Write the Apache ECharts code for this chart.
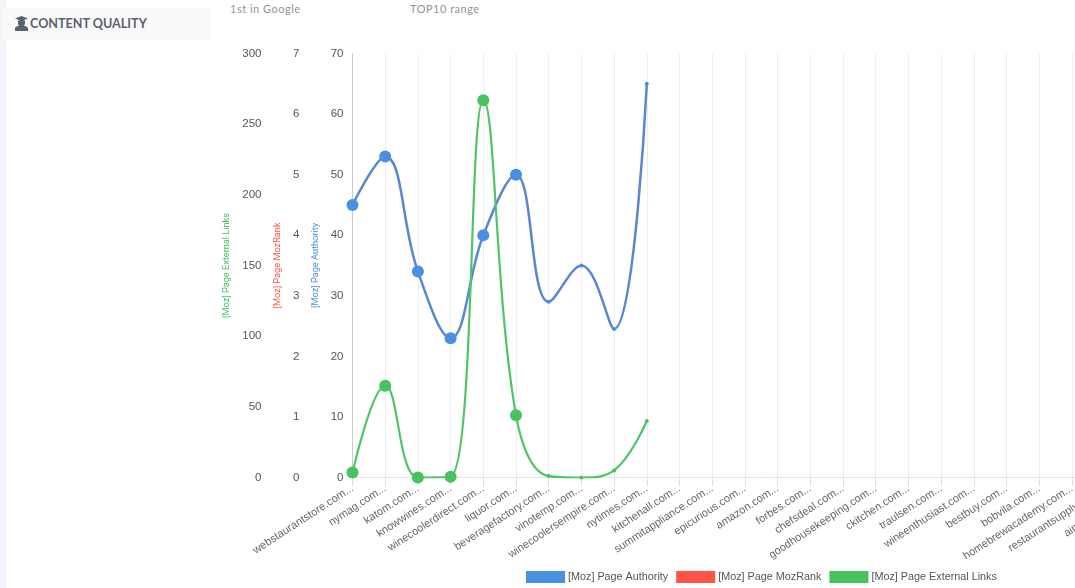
<!DOCTYPE html>
<html>
<head>
    <meta charset="UTF-8">
    <title>Content quality</title>
    <script src="https://cdn.jsdelivr.net/npm/echarts@6/dist/echarts.min.js"></script>
    <style>
        html, body { margin: 0; padding: 0; background: #fff; overflow: hidden; }
        body { width: 1075px; height: 588px; position: relative; font-family: Lato, "Open Sans", sans-serif; }
        .strip { position: absolute; left: 0; top: 0; width: 6px; height: 588px; background: #f3f4f9; }
        .panel { position: absolute; left: 3px; top: 8px; width: 208px; height: 32px; background: #f9f9f9; border-radius: 2px;
                 font-weight: 700; font-size: 12.6px; line-height: 32px; color: #5a6270; }
        .panel svg { position: absolute; left: 12px; top: 8px; }
        .panel span { position: absolute; left: 27px; }
        .head { position: absolute; top: 1px; font-size: 11px; letter-spacing: .5px; color: #8f949c; line-height: 16px; }
        #main { position: absolute; left: 0; top: 0; width: 1240px; height: 588px; }
    </style>
</head>
<body>
<div class="strip"></div>
<div class="panel">
    <svg width="13" height="15" viewBox="0 0 13 15"><path fill="#5a6270" d="M6.500 0 13 2.500 6.500 5 0 2.500zM3 4.500h7V7a3.500 3.500 0 0 1-7 0zM0 15v-2.500C0 11 2 10 3.500 10h6c1.500 0 3.500 1 3.500 2.500V15z"/></svg>
    <span>CONTENT QUALITY</span>
</div>
<div class="head" style="left:230px">1st in Google</div>
<div class="head" style="left:410px">TOP10 range</div>
<div id="main"></div>
<script type="text/javascript">
    var categories = ['webstaurantstore.com...', 'nymag.com...', 'katom.com...', 'knowwines.com...',
        'winecoolerdirect.com...', 'liquor.com...', 'beveragefactory.com...', 'vinotemp.com...',
        'winecoolersempire.com...', 'nytimes.com...', 'kitchenall.com...', 'summitappliance.com...',
        'epicurious.com...', 'amazon.com...', 'forbes.com...', 'chefsdeal.com...',
        'goodhousekeeping.com...', 'ckitchen.com...', 'traulsen.com...', 'wineenthusiast.com...',
        'bestbuy.com...', 'bobvila.com...', 'homebrewacademy.com...', 'restaurantsupply.com...',
        'aimsurplus.com...', 'restaurantware.com...'];
    var pageAuthority = [45, 53, 34, 23, 40, 50, 29, 35, 24.5, 65];
    var pageMozRank = [];
    var externalLinks = [3.5, 65, 0, 0.5, 267, 44, 1, 0, 5, 40];

    var myChart = echarts.init(document.getElementById('main'));

    function yAxis(name, max, step, color, offset, nameGap, showLine) {
        return {
            type: 'value',
            position: 'left',
            min: 0,
            max: max,
            interval: step,
            offset: offset,
            name: name,
            nameLocation: 'middle',
            nameRotate: 90,
            nameGap: nameGap,
            nameTextStyle: {color: color, fontSize: 9.2, fontFamily: 'Roboto'},
            axisLine: {show: showLine, lineStyle: {color: '#cccccc'}},
            axisTick: {show: false},
            splitLine: {show: false},
            axisLabel: {color: '#555', fontSize: 11.5, fontFamily: 'Liberation Sans', margin: 9}
        };
    }

    function line(name, color, lineColor, width, data, yIndex) {
        return {
            name: name,
            type: 'line',
            yAxisIndex: yIndex,
            data: data,
            smooth: 0.4,
            symbol: 'circle',
            // only the first six points carry a large marker
            symbolSize: function (v, p) { return p.dataIndex < 6 ? 12 : 4; },
            showSymbol: true,
            lineStyle: {color: lineColor, width: width},
            itemStyle: {color: color}
        };
    }

    var option = {
        animation: false,
        textStyle: {fontFamily: 'Liberation Sans'},
        grid: {left: 352.5, top: 53.5, width: 817.5, height: 424, containLabel: false},
        legend: {
            left: 521,
            top: 566,
            icon: 'rect',
            itemWidth: 39,
            itemHeight: 12,
            itemGap: 8,
            textStyle: {color: '#555', fontSize: 10.8, fontFamily: 'Liberation Sans', padding: [0, 0, 0, -2]},
            data: ['[Moz] Page Authority', '[Moz] Page MozRank', '[Moz] Page External Links']
        },
        xAxis: {
            type: 'category',
            data: categories,
            boundaryGap: false,
            axisLine: {lineStyle: {color: '#e6e6e6'}},
            axisTick: {length: 8, lineStyle: {color: '#ddd'}},
            splitLine: {show: true, lineStyle: {color: '#eeeeee', width: 1}},
            axisLabel: {
                interval: 0,
                rotate: 33,
                color: '#666',
                fontSize: 11,
                fontFamily: 'Liberation Sans',
                margin: 10
            }
        },
        yAxis: [
            yAxis('[Moz] Page Authority', 70, 10, '#4a90e2', 0, 26, true),
            yAxis('[Moz] Page MozRank', 7, 1, '#ff5347', 44, 22, false),
            yAxis('[Moz] Page External Links', 300, 50, '#46c35f', 82, 34, false)
        ],
        series: [
            line('[Moz] Page Authority', '#4a90e2', '#5b86d2', 2.5, pageAuthority, 0),
            line('[Moz] Page MozRank', '#ff5347', '#ff5347', 2.5, pageMozRank, 1),
            line('[Moz] Page External Links', '#46c35f', '#50c468', 2.2, externalLinks, 2)
        ]
    };

    myChart.setOption(option);
</script>
</body>
</html>
